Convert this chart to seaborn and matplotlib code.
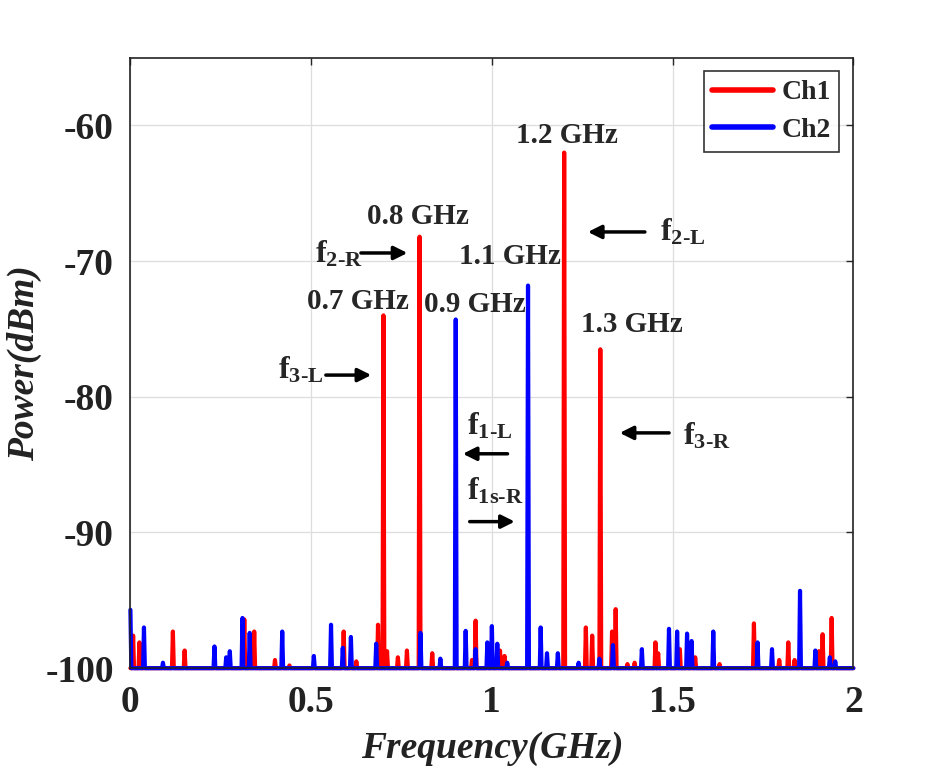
import numpy as np
import pandas as pd
import matplotlib
matplotlib.use("Agg")
import matplotlib.pyplot as plt
import seaborn as sns

# spectrum peaks (GHz, dBm); everything else sits on the -100 dBm floor
ch1_freq = [0.007, 0.025, 0.117, 0.150, 0.315, 0.343, 0.401, 0.441, 0.590, 0.624,
            0.684, 0.700, 0.710, 0.740, 0.765, 0.800, 0.834, 0.945, 0.954, 1.023,
            1.034, 1.200, 1.260, 1.277, 1.300, 1.333, 1.342, 1.374, 1.394, 1.452,
            1.461, 1.521, 1.562, 1.630, 1.726, 1.796, 1.819, 1.837, 1.904, 1.915, 1.939]
ch1_dbm = [-97.6, -98.1, -97.3, -98.7, -96.4, -97.3, -99.4, -99.8, -97.3, -99.5,
           -96.8, -74.0, -98.75, -99.2, -98.7, -68.2, -98.9, -99.4, -96.5, -98.7,
           -99.1, -62.0, -97.0, -97.6, -76.5, -97.3, -95.65, -99.7, -99.6, -98.1,
           -98.9, -98.6, -99.2, -99.7, -96.7, -99.4, -98.1, -99.4, -98.75, -97.5, -96.3]

ch2_freq = [0.000, 0.037, 0.089, 0.233, 0.265, 0.276, 0.309, 0.330, 0.419, 0.507,
            0.556, 0.588, 0.611, 0.680, 0.802, 0.858, 0.900, 0.928, 0.954, 0.988,
            1.000, 1.014, 1.042, 1.100, 1.134, 1.152, 1.182, 1.240, 1.298, 1.335,
            1.414, 1.491, 1.512, 1.541, 1.553, 1.613, 1.735, 1.775, 1.852, 1.895,
            1.934, 1.950]
ch2_dbm = [-95.7, -97.0, -99.6, -98.4, -99.2, -98.75, -96.3, -97.4, -97.3, -99.1,
           -96.8, -98.5, -97.7, -98.2, -97.4, -99.3, -74.3, -97.25, -98.6, -98.1,
           -96.9, -98.2, -99.6, -71.8, -97.0, -98.9, -98.9, -99.6, -99.3, -98.3,
           -98.6, -97.1, -97.3, -97.45, -98.0, -97.3, -98.1, -98.6, -94.3, -98.7,
           -99.2, -99.5]

noise_floor = -100.0

peak_labels = ["0.7 GHz", "0.8 GHz", "0.9 GHz", "1.1 GHz", "1.2 GHz", "1.3 GHz"]
peak_label_pos = [(0.630, -73.5), (0.796, -67.3), (0.954, -73.74),
                  (1.051, -70.2), (1.208, -61.3), (1.386, -75.2)]

# (label, text position, arrow tail, arrow head)
arrow_notes = [
    ("2-R", (0.512, -70.1), (0.630, -69.4), (0.774, -69.4)),
    ("2-L", (1.466, -68.5), (1.431, -67.85), (1.258, -67.85)),
    ("3-L", (0.408, -78.65), (0.533, -78.4), (0.674, -78.4)),
    ("3-R", (1.529, -83.5), (1.498, -82.66), (1.346, -82.66)),
    ("1-L", (0.931, -82.8), (1.051, -84.2), (0.912, -84.2)),
    ("1s-R", (0.931, -87.6), (0.931, -89.2), (1.071, -89.2)),
]


def spectrum(freqs, levels, step=0.0025):
    grid = np.round(np.arange(0, 2 + step / 2, step), 4)
    power = np.full(grid.shape, noise_floor)
    for f, p in zip(freqs, levels):
        i = int(round(f / step))
        power[i] = max(power[i], p)
    return grid, power


g1, p1 = spectrum(ch1_freq, ch1_dbm)
g2, p2 = spectrum(ch2_freq, ch2_dbm)
df = pd.concat([
    pd.DataFrame({"freq": g1, "power": p1, "channel": "Ch1"}),
    pd.DataFrame({"freq": g2, "power": p2, "channel": "Ch2"}),
])

sns.set_style("white")
plt.rcParams["font.family"] = ["Liberation Serif", "DejaVu Serif"]
plt.rcParams["font.weight"] = "bold"
plt.rcParams["axes.unicode_minus"] = False
plt.rcParams["mathtext.fontset"] = "custom"
plt.rcParams["mathtext.rm"] = "Liberation Serif:bold"
plt.rcParams["mathtext.bf"] = "Liberation Serif:bold"
plt.rcParams["mathtext.it"] = "Liberation Serif:bold"

fig = plt.figure(figsize=(9.45, 7.68), dpi=100)
ax = fig.add_axes([0.138, 0.130, 0.765, 0.795])

sns.lineplot(data=df, x="freq", y="power", hue="channel",
             palette={"Ch1": "#ff0000", "Ch2": "#0000ff"},
             estimator=None, linewidth=3, ax=ax)
for line in ax.get_lines():
    line.set_clip_on(False)

ax.set_xlim(0, 2)
ax.set_ylim(-100, -55)
ax.set_xticks([0, 0.5, 1, 1.5, 2])
ax.set_xticklabels(["0", "0.5", "1", "1.5", "2"])
ax.set_yticks([-100, -90, -80, -70, -60])
ax.tick_params(direction="in", length=5, width=1, top=True, right=True,
               labelsize=27, pad=12, labelcolor="#222222")
for lab in ax.get_xticklabels() + ax.get_yticklabels():
    lab.set_fontweight("bold")
ax.grid(True, color="#dddddd", linewidth=0.9)
for s in ax.spines.values():
    s.set_color("#222222")
    s.set_linewidth(1.2)

ax.set_xlabel("Frequency(GHz)", fontsize=27, fontweight="bold", style="italic",
              labelpad=8, color="#222222")
ax.set_ylabel("Power(dBm)", fontsize=27, fontweight="bold", style="italic",
              labelpad=2, color="#222222")

for lab, (x, y) in zip(peak_labels, peak_label_pos):
    ax.text(x, y, lab, ha="center", va="baseline", fontsize=21, fontweight="bold")

for sub, (tx, ty), tail, head in arrow_notes:
    ax.text(tx, ty, r"$\mathrm{f}_{\mathrm{" + sub.replace("-", r"\text{-}") + "}}$",
            ha="left", va="baseline", fontsize=23)
    ax.annotate("", xy=head, xytext=tail,
                arrowprops=dict(arrowstyle="-|>", lw=2.5, color="k", mutation_scale=20))

leg = ax.legend(loc="upper right", fontsize=20, frameon=True, fancybox=False,
                edgecolor="black", handlelength=2.2, borderaxespad=0.5,
                borderpad=0.3, labelspacing=0.45, handletextpad=0.3, title=None)
leg.get_frame().set_linewidth(1.2)
for line in leg.get_lines():
    line.set_linewidth(4)
for t in leg.get_texts():
    t.set_fontweight("bold")

fig.savefig("out.png", dpi=100)
